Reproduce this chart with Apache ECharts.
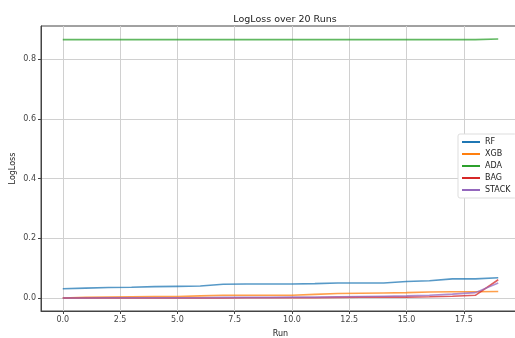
<!DOCTYPE html>
<html><head><meta charset="utf-8">
<script src="https://cdn.jsdelivr.net/npm/echarts@6/dist/echarts.min.js"></script>
<style>html,body{margin:0;padding:0;background:#fff}#c{width:515px;height:338px}</style>
</head><body><div id="c"></div>
<script>
const runs = [0,1,2,3,4,5,6,7,8,9,10,11,12,13,14,15,16,17,18,19];
const rf    = [0.031,0.033,0.035,0.036,0.038,0.039,0.040,0.046,0.047,0.047,0.047,0.048,0.050,0.050,0.050,0.055,0.058,0.064,0.064,0.068];
const xgb   = [0.000,0.002,0.003,0.004,0.005,0.005,0.007,0.009,0.009,0.009,0.009,0.012,0.015,0.016,0.017,0.018,0.020,0.021,0.021,0.022];
const ada   = [0.865,0.865,0.865,0.865,0.865,0.865,0.865,0.865,0.865,0.865,0.865,0.865,0.865,0.865,0.865,0.865,0.865,0.865,0.865,0.867];
const bag   = [0.000,0.000,0.000,0.000,0.000,0.000,0.000,0.000,0.001,0.001,0.001,0.001,0.002,0.003,0.003,0.003,0.004,0.006,0.009,0.061];
const stack = [0.000,0.000,0.001,0.001,0.001,0.001,0.001,0.002,0.002,0.002,0.003,0.003,0.004,0.005,0.006,0.007,0.009,0.013,0.018,0.050];
const xTicks = [0,2.5,5,7.5,10,12.5,15,17.5];
const yTicks = [0,0.2,0.4,0.6,0.8];
const names = ['RF','XGB','ADA','BAG','STACK'];
const colors = ['#1f77b4','#ff7f0e','#2ca02c','#d62728','#9467bd'];
const values = [rf,xgb,ada,bag,stack];

const chart = echarts.init(document.getElementById('c'));
const font = 'DejaVu Sans';
chart.setOption({
  animation:false,
  title:{text:'LogLoss over 20 Runs',left:280,textAlign:'center',top:10,textStyle:{fontFamily:font,fontSize:9.5,fontWeight:'normal',color:'#222'}},
  grid:{left:41,top:26,right:-5,bottom:27,outerBoundsMode:'none',containLabel:false,show:true,borderColor:'#444',borderWidth:1},
  legend:{orient:'vertical',left:458,top:134,data:names,icon:'rect',itemWidth:18,itemHeight:2,itemGap:4,
    backgroundColor:'#fff',borderColor:'#ddd',borderWidth:1,borderRadius:2,padding:[4,6,4,4],
    textStyle:{fontFamily:font,fontSize:8,color:'#222'}},
  xAxis:{type:'value',min:-0.95,max:19.95,name:'Run',nameLocation:'middle',nameGap:19,nameMoveOverlap:false,
    nameTextStyle:{fontFamily:font,fontSize:8,color:'#222'},
    axisLine:{show:true,onZero:false,lineStyle:{color:'#444'}},
    axisTick:{show:true,inside:false,customValues:xTicks,length:3,lineStyle:{color:'#444'}},
    axisLabel:{customValues:xTicks,fontFamily:font,fontSize:8,color:'#444',margin:5,formatter:v=>v.toFixed(1)},
    splitLine:{show:true,lineStyle:{color:'#d0d0d0',width:1}}},
  yAxis:{type:'value',min:-0.0435,max:0.9105,name:'LogLoss',nameLocation:'middle',nameGap:24,nameMoveOverlap:false,
    nameTextStyle:{fontFamily:font,fontSize:8,color:'#222'},
    axisLine:{show:true,onZero:false,lineStyle:{color:'#444'}},
    axisTick:{show:true,inside:false,customValues:yTicks,length:3,lineStyle:{color:'#444'}},
    axisLabel:{customValues:yTicks,fontFamily:font,fontSize:8,color:'#444',margin:5,formatter:v=>v.toFixed(1)},
    splitLine:{show:true,lineStyle:{color:'#d0d0d0',width:1}}},
  series:names.map((n,i)=>({name:n,type:'line',data:runs.map((r,j)=>[r,values[i][j]]),
    showSymbol:false,color:colors[i],lineStyle:{width:1.6,opacity:0.75}}))
});
</script></body></html>
